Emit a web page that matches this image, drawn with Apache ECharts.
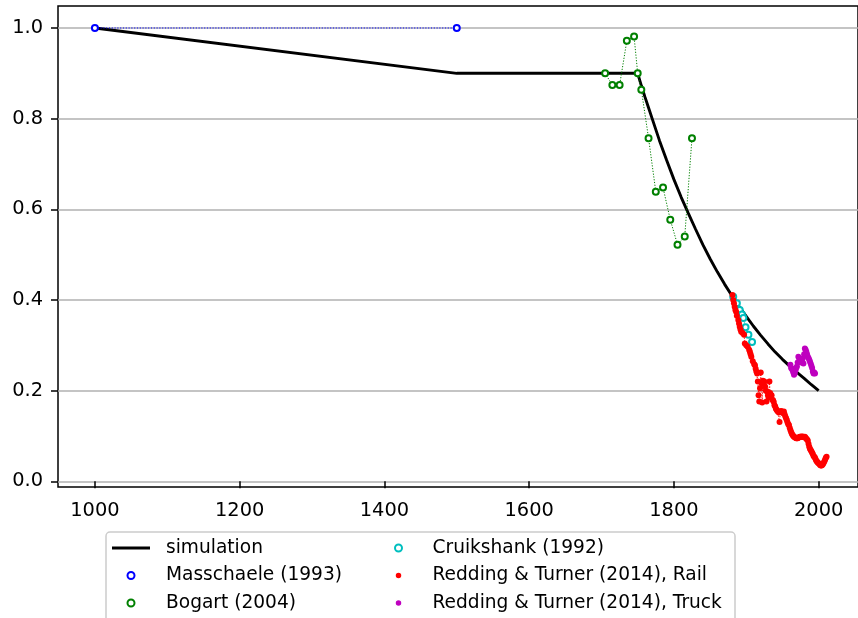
<!DOCTYPE html>
<html>
<head>
<meta charset="utf-8">
<script src="https://cdn.jsdelivr.net/npm/echarts@6/dist/echarts.min.js"></script>
<style>
html,body{margin:0;padding:0;background:#fff;}
#chart{width:858px;height:618px;}
</style>
</head>
<body>
<div id="chart"></div>
<script>
// ---- data ----
const xTicks = [1000, 1200, 1400, 1600, 1800, 2000];
const yTicks = [0.0, 0.2, 0.4, 0.6, 0.8, 1.0];

const simulation = [
  [1000, 1.0], [1500, 0.9], [1750, 0.9], [1755, 0.873], [1760, 0.848], [1765, 0.824],
  [1770, 0.80], [1780, 0.752], [1790, 0.708], [1800, 0.666], [1810, 0.627], [1820, 0.591],
  [1830, 0.556], [1840, 0.522], [1850, 0.491], [1860, 0.462], [1870, 0.435], [1880, 0.41],
  [1890, 0.386], [1900, 0.364], [1910, 0.342], [1920, 0.322], [1930, 0.303], [1940, 0.285],
  [1950, 0.269], [1960, 0.254], [1970, 0.24], [1980, 0.227], [1990, 0.213], [2000, 0.20]
];

const masschaele = [[1000, 1.0], [1500, 1.0]];

const bogart = [
  [1705, 0.90], [1715, 0.874], [1725, 0.874], [1735, 0.972], [1745, 0.981], [1750, 0.90],
  [1755, 0.864], [1765, 0.757], [1775, 0.639], [1785, 0.648], [1795, 0.577], [1805, 0.522],
  [1815, 0.540], [1825, 0.757]
];

const cruikshank = [
  [1882, 0.407], [1887, 0.393], [1891, 0.378], [1894, 0.368], [1896, 0.36], [1899, 0.34],
  [1903, 0.323], [1908, 0.307]
];

const rail = [
  [1881, 0.411], [1882, 0.40], [1883, 0.393], [1884, 0.385], [1885, 0.378], [1886, 0.374],
  [1887, 0.365], [1889, 0.356], [1890, 0.348], [1891, 0.341], [1892, 0.335], [1893, 0.33],
  [1895, 0.327], [1897, 0.323], [1898, 0.304], [1900, 0.30], [1902, 0.297], [1904, 0.29],
  [1905, 0.286], [1906, 0.28], [1907, 0.275], [1909, 0.265], [1911, 0.258], [1912, 0.256],
  [1913, 0.248], [1914, 0.242], [1915, 0.238], [1916, 0.22], [1917, 0.19], [1918, 0.176],
  [1919, 0.205], [1920, 0.24], [1921, 0.216], [1922, 0.174], [1923, 0.222], [1924, 0.215],
  [1925, 0.22], [1926, 0.209], [1927, 0.20], [1928, 0.176], [1929, 0.198], [1930, 0.19],
  [1931, 0.185], [1932, 0.22], [1933, 0.195], [1934, 0.19], [1935, 0.19], [1936, 0.18],
  [1937, 0.179], [1938, 0.175], [1939, 0.168], [1940, 0.165], [1941, 0.16], [1942, 0.158],
  [1943, 0.155], [1944, 0.154], [1945, 0.152], [1946, 0.131], [1947, 0.153], [1948, 0.155],
  [1949, 0.154], [1950, 0.153], [1951, 0.15], [1952, 0.154], [1953, 0.148], [1954, 0.143],
  [1955, 0.139], [1956, 0.135], [1957, 0.13], [1958, 0.126], [1959, 0.124], [1960, 0.118],
  [1961, 0.113], [1962, 0.109], [1963, 0.105], [1964, 0.102], [1965, 0.10], [1966, 0.098],
  [1967, 0.097], [1968, 0.096], [1969, 0.095], [1970, 0.095], [1971, 0.095], [1972, 0.096],
  [1973, 0.097], [1974, 0.098], [1975, 0.098], [1976, 0.098], [1977, 0.099], [1978, 0.098],
  [1979, 0.098], [1980, 0.097], [1981, 0.098], [1982, 0.096], [1983, 0.094], [1984, 0.092],
  [1985, 0.09], [1986, 0.083], [1987, 0.076], [1988, 0.072], [1989, 0.069], [1990, 0.066],
  [1991, 0.063], [1992, 0.06], [1993, 0.056], [1994, 0.054], [1995, 0.052], [1996, 0.048],
  [1997, 0.045], [1998, 0.043], [1999, 0.041], [2000, 0.04], [2001, 0.038], [2002, 0.036],
  [2003, 0.035], [2004, 0.035], [2005, 0.036], [2006, 0.038], [2007, 0.041], [2008, 0.044],
  [2009, 0.048], [2010, 0.052], [2011, 0.054]
];

const truck = [
  [1961, 0.257], [1962, 0.25], [1963, 0.249], [1964, 0.245], [1965, 0.24], [1966, 0.235],
  [1967, 0.238], [1968, 0.245], [1969, 0.25], [1970, 0.253], [1971, 0.262], [1972, 0.275],
  [1973, 0.272], [1974, 0.266], [1975, 0.264], [1976, 0.262], [1977, 0.268], [1978, 0.271],
  [1979, 0.26], [1980, 0.28], [1981, 0.293], [1982, 0.29], [1983, 0.286], [1984, 0.28],
  [1985, 0.275], [1986, 0.272], [1987, 0.268], [1988, 0.264], [1989, 0.26], [1990, 0.255],
  [1991, 0.25], [1992, 0.242], [1993, 0.238], [1994, 0.24], [1995, 0.238]
];

const names = [
  'simulation', 'Masschaele (1993)', 'Bogart (2004)', 'Cruikshank (1992)',
  'Redding & Turner (2014), Rail', 'Redding & Turner (2014), Truck'
];

// ---- chart ----
const FONT = 'DejaVu Sans';
const chart = echarts.init(document.getElementById('chart'), null, {renderer: 'canvas'});

function hollow(name, data, color) {
  return {
    name: name, type: 'line', data: data,
    symbol: 'circle', symbolSize: 6, showSymbol: true,
    itemStyle: {color: '#ffffff', borderColor: color, borderWidth: 2},
    lineStyle: {color: color, width: 1, type: [1.2, 1.6]},
    emphasis: {disabled: true}, animation: false
  };
}
function filled(name, data, color) {
  return {
    name: name, type: 'line', data: data,
    symbol: 'circle', symbolSize: 6, showSymbol: true,
    itemStyle: {color: color, borderWidth: 0},
    lineStyle: {color: color, width: 1, type: [1.2, 1.6]},
    emphasis: {disabled: true}, animation: false
  };
}

const legendText = {fontFamily: FONT, fontSize: 18.6, color: '#000', lineHeight: 20};

const option = {
  backgroundColor: '#ffffff',
  animation: false,
  grid: {
    left: 58, top: 6, right: -2, bottom: 131,
    show: true, borderColor: '#000', borderWidth: 1.5, backgroundColor: 'transparent'
  },
  xAxis: {
    type: 'value', min: 949, max: 2054.4,
    axisLine: {show: false},
    axisTick: {show: true, length: 7, inside: false, lineStyle: {color: '#000', width: 1.5}, customValues: xTicks},
    axisLabel: {customValues: xTicks, fontFamily: FONT, fontSize: 19.4, color: '#000', margin: 14,
      formatter: function (v) { return String(Math.round(v)); }},
    splitLine: {show: false}
  },
  yAxis: {
    type: 'value', min: -0.0126, max: 1.0485,
    axisLine: {show: false},
    axisTick: {show: true, length: 7, inside: false, lineStyle: {color: '#000', width: 1.5}, customValues: yTicks},
    axisLabel: {customValues: yTicks, fontFamily: FONT, fontSize: 19.4, color: '#000', margin: 15,
      formatter: function (v) { return v.toFixed(1); }},
    splitLine: {show: true, lineStyle: {color: '#b0b0b0', width: 1.5}}
  },
  graphic: [{
    type: 'rect', z: 1, silent: true,
    shape: {x: 106, y: 532, width: 629, height: 100, r: 4},
    style: {fill: 'rgba(255,255,255,0.8)', stroke: '#cccccc', lineWidth: 1.5}
  }],
  legend: [
    {
      orient: 'vertical', left: 112, top: 538, padding: 0,
      itemWidth: 38, itemHeight: 7, itemGap: 7.5, selectedMode: false,
      textStyle: Object.assign({padding: [0, 0, 0, 11]}, legendText),
      data: [
        {name: names[0], icon: 'path://M0,0L38,0L38,3L0,3Z', itemStyle: {color: '#000', borderWidth: 0}},
        {name: names[1], icon: 'circle', itemStyle: {color: '#fff', borderColor: '#0000ff', borderWidth: 2}},
        {name: names[2], icon: 'circle', itemStyle: {color: '#fff', borderColor: '#008000', borderWidth: 2}}
      ]
    },
    {
      orient: 'vertical', left: 394, top: 538, padding: 0,
      itemWidth: 38, itemHeight: 7, itemGap: 7.5, selectedMode: false,
      textStyle: Object.assign({padding: [0, 0, 0, 10]}, legendText),
      data: [
        {name: names[3], icon: 'circle', itemStyle: {color: '#fff', borderColor: '#00bfbf', borderWidth: 2}},
        {name: names[4], icon: 'circle', itemStyle: {color: '#ff0000', borderColor: '#fff', borderWidth: 1.5}},
        {name: names[5], icon: 'circle', itemStyle: {color: '#bf00bf', borderColor: '#fff', borderWidth: 1.5}}
      ]
    }
  ],
  series: [
    {
      name: names[0], type: 'line', data: simulation, symbol: 'none', showSymbol: false,
      lineStyle: {color: '#000', width: 2.9}, itemStyle: {color: '#000'},
      emphasis: {disabled: true}, animation: false
    },
    hollow(names[1], masschaele, '#0000ff'),
    hollow(names[2], bogart, '#008000'),
    hollow(names[3], cruikshank, '#00bfbf'),
    filled(names[4], rail, '#ff0000'),
    filled(names[5], truck, '#bf00bf')
  ]
};
chart.setOption(option);
</script>
</body>
</html>
